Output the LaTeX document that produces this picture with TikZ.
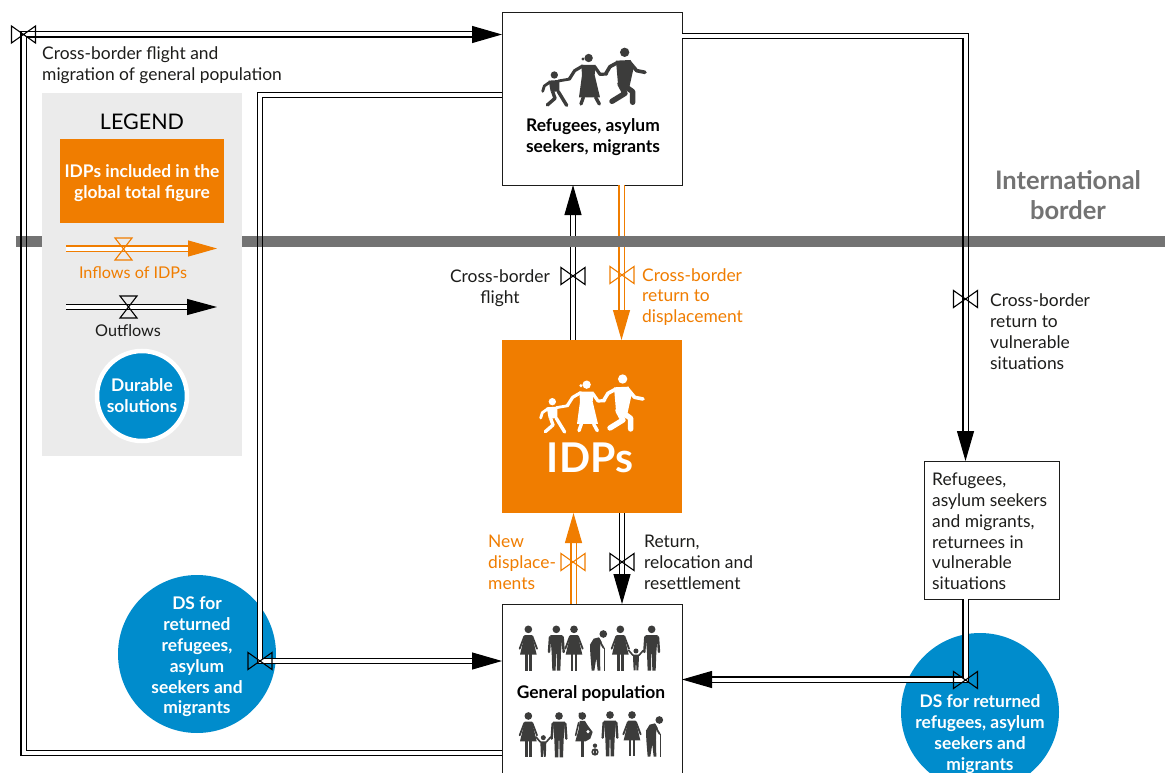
\documentclass[tikz,border=0pt]{standalone}
\usepackage{fontspec}
\setmainfont{Lato}
\usetikzlibrary{arrows.meta}
\definecolor{idporange}{HTML}{F07D00}
\definecolor{dsblue}{HTML}{008CCC}
\definecolor{bordergrey}{HTML}{737373}
\definecolor{legendgrey}{HTML}{EBEBEB}
\definecolor{icon}{HTML}{3C3C3B}
\definecolor{ink}{HTML}{1D1D1B}
\newcommand{\basefont}{\fontsize{17.4}{20.8}\selectfont}
\newcommand{\keyfont}{\fontsize{16.2}{20.8}\selectfont}
\tikzset{
  flowline/.style={double,double distance=4pt,line width=1.1pt,draw=black,line join=miter},
  oflow/.style={flowline,draw=idporange},
  tip/.style={-{Triangle[length=30pt,width=17pt]}},
  bowtie/.pic={\draw[line width=1.1pt,line join=miter] (-12,-8.5)--(12,8.5)--(12,-8.5)--(-12,8.5)--cycle;},
  hourglass/.pic={\draw[line width=1.1pt,line join=miter] (-8.5,-11)--(8.5,11)--(-8.5,11)--(8.5,-11)--cycle;},
  boxnode/.style={draw=ink,line width=0.9pt,fill=white,minimum width=180pt,inner sep=0pt,outer sep=0pt},
  lbl/.style={font=\basefont,inner sep=0pt,align=left,anchor=west,text=ink},
  olbl/.style={lbl,text=idporange},
  wtxt/.style={font=\basefont\bfseries,text=white,align=center,inner sep=0pt},
  btxt/.style={font=\basefont\bfseries,text=black,align=center,inner sep=0pt},
  dscircle/.style={circle,fill=dsblue,minimum size=158pt,inner sep=0pt,outer sep=0pt},
}
% icons, drawn in 1/3-pixel units
\newcommand{\famstroke}[2]{\draw[line width=#1pt,line cap=round,line join=round] #2;}
\newcommand{\family}[2]{%
\begin{scope}[shift={(#1)},x=0.3333pt,y=-0.3333pt,color=#2,fill=#2]
 % man
 \fill (374,127) circle (14);
 \fill (348,152)--(392,150)--(400,178)--(388,232)--(354,222)--cycle;
 \famstroke{3.6}{(352,158)--(330,170)--(318,190)}
 \famstroke{3.6}{(390,158)--(410,182)--(435,187)}
 \famstroke{5.4}{(370,225)--(398,245)--(398,277)}
 \famstroke{5.4}{(360,222)--(375,250)--(336,274)}
 % woman
 \fill (266,144) circle (12.5);
 \fill (249,147) circle (5);
 \fill (244,165)--(287,165)--(284,195)--(300,262)--(237,262)--(246,195)--cycle;
 \famstroke{3.2}{(248,168)--(224,182)--(208,207)}
 \famstroke{3.2}{(284,170)--(300,193)--(320,192)}
 \famstroke{3.4}{(250,262)--(243,282)}
 \famstroke{3.4}{(287,262)--(298,282)}
 % child
 \fill (163,195) circle (11);
 \fill (146,212)--(178,210)--(178,245)--(152,245)--cycle;
 \famstroke{2.8}{(150,216)--(133,228)--(128,244)}
 \famstroke{2.8}{(175,213)--(210,207)}
 \famstroke{3.4}{(158,245)--(165,265)--(142,285)}
 \famstroke{3.4}{(175,245)--(200,286)}
\end{scope}}
\newcommand{\pman}[2]{%
\begin{scope}[shift={(#1,#2)}]
 \fill (0,0) circle (11.5);
 \fill (-18,17)--(18,17)--(14,70)--(12,124)--(2,124)--(1,74)--(-1,74)--(-2,124)--(-12,124)--(-14,70)--cycle;
 \famstroke{2.4}{(-19,23)--(-22,68)}
 \famstroke{2.4}{(19,23)--(22,68)}
\end{scope}}
\newcommand{\pwoman}[2]{%
\begin{scope}[shift={(#1,#2)}]
 \fill (0,0) circle (11.5);
 \fill (-11,17)--(11,17)--(25,76)--(-25,76)--cycle;
 \fill (-10,74) rectangle (-2,124);
 \fill (2,74) rectangle (10,124);
 \famstroke{1.8}{(-12,21)--(-26,58)}
 \famstroke{1.8}{(12,21)--(26,58)}
\end{scope}}
\newcommand{\pchild}[2]{%
\begin{scope}[shift={(#1,#2)}]
 \fill (0,0) circle (7.5);
 \fill (-9,11)--(9,11)--(8,40)--(7,58)--(1.5,58)--(0.5,38)--(-0.5,38)--(-1.5,58)--(-7,58)--(-8,40)--cycle;
 \famstroke{1.6}{(-9,13)--(-22,-2)}
 \famstroke{1.6}{(9,13)--(22,-2)}
\end{scope}}
\newcommand{\pelder}[2]{%
\begin{scope}[shift={(#1,#2)}]
 \fill (15,0) circle (11.5);
 \fill (2,10)--(-14,14)--(-25,32)--(-24,60)--(-20,110)--(-12,110)--(-6,72)--(-2,110)--(6,110)--(5,60)--(6,30)--(10,24)--cycle;
 \famstroke{1.8}{(2,15)--(10,32)--(16,42)}
 \draw[line width=1pt] (20,42)--(20,110);
\end{scope}}
\newcommand{\ppreg}[2]{%
\begin{scope}[shift={(#1,#2)}]
 \fill (0,0) circle (11.5);
 \fill (-7,-6) circle (5);
 \fill (-8,15)--(8,15)--(16,28)--(31,48)--(24,68)--(10,76)--(-21,76)--(-11,40)--cycle;
 \fill (-5,74) rectangle (4,122);
 \fill[white] (17,47) circle (5);
 \famstroke{1.6}{(-11,20)--(-20,58)}
\end{scope}}
\newcommand{\pbaby}[2]{%
\begin{scope}[shift={(#1,#2)}]
 \fill (0,-15) circle (6.5);
 \draw[line width=1.6pt] (0,4) circle (8.5);
 \fill (-4,-5) rectangle (4,14);
\end{scope}}
\begin{document}
\begin{tikzpicture}[x=1pt,y=-1pt,font=\basefont]
\useasboundingbox (0,0) rectangle (1165,773);
\clip (0,0) rectangle (1165,773);
\fill[white] (0,0) rectangle (1165,773);

% legend panel
\node[fill=legendgrey,minimum width=200pt,minimum height=363pt,inner sep=0pt,outer sep=0pt] (legend) at (142,274.5) {};
\node[inner sep=0pt,font=\fontsize{21.5}{24}\selectfont,text=black] (legendtitle) at (142,121.5) {LEGEND};
\node[fill=idporange,minimum width=164pt,minimum height=84pt,inner sep=0pt,outer sep=0pt] (legendidp) at (142,181) {};
\node[wtxt] (legendidptxt) at (142,183) {IDPs included in the\\global total figure};
\coordinate (inflowA) at (66,248.5);
\coordinate (inflowB) at (217,248.5);
\coordinate (outflowA) at (66,307);
\coordinate (outflowB) at (217,307);
\node[olbl,anchor=center,font=\keyfont] (inflowtxt) at (133,273) {Inflows of IDPs};
\node[lbl,anchor=center,font=\keyfont] (outflowtxt) at (128,331) {Outflows};
\node[circle,fill=dsblue,draw=white,line width=4.5pt,minimum size=90pt,inner sep=0pt,wtxt] (legendds) at (142,396) {Durable\\solutions};

% boxes and circles
\node[boxnode,minimum height=173pt] (refugees) at (592,98.5) {};
\node[fill=idporange,minimum width=180pt,minimum height=173pt,inner sep=0pt,outer sep=0pt] (idps) at (592,426.5) {};
\node[boxnode,minimum height=186pt] (genpop) at (592,697) {};
\node[dscircle] (dsleft) at (197,654) {};
\node[dscircle] (dsright) at (980,712) {};
\node[draw=ink,line width=0.9pt,fill=white,minimum width=135pt,minimum height=138pt,inner sep=0pt,outer sep=0pt] (vulnbox) at (991.5,530) {};
\node[lbl,anchor=west] (vulntxt) at (932,531.5) {Refugees,\\asylum seekers\\and migrants,\\returnees in\\vulnerable\\situations};

% free-end corners
\coordinate (cornerA) at (23.5,34.5);
\coordinate (cornerB) at (260,661);

% flows
\draw[flowline,tip] ([yshift=-56pt]genpop.west) -| (cornerA) -- ([yshift=64pt]refugees.west);
\draw[flowline,tip] ([yshift=3.5pt]refugees.west) -| (cornerB) -- ([yshift=36pt]genpop.west);
\draw[flowline,tip] ([yshift=62.5pt]refugees.east) -| ([xshift=-26pt]vulnbox.north);
\draw[flowline,tip] ([xshift=-26pt]vulnbox.south) |- ([yshift=17.5pt]genpop.east);
\draw[flowline,tip] ([xshift=-19pt]idps.north) -- ([xshift=-19pt]refugees.south);
\draw[oflow,tip] ([xshift=29.5pt]refugees.south) -- ([xshift=29.5pt]idps.north);
\draw[oflow,tip] ([xshift=-18.5pt]genpop.north) -- ([xshift=-18.5pt]idps.south);
\draw[flowline,tip] ([xshift=30pt]idps.south) -- ([xshift=30pt]genpop.north);
\draw[oflow,-{Triangle[length=29pt,width=16pt]}] (inflowA) -- (inflowB);
\draw[flowline,-{Triangle[length=30pt,width=16pt]}] (outflowA) -- (outflowB);

% border bar, broken by the legend
\coordinate (barL) at (16,241);
\coordinate (barR) at (1165,241);
\draw[bordergrey,line width=11pt] (barL) -- (legend.west |- barL);
\draw[bordergrey,line width=11pt] (legend.east |- barL) -- (barR);
% long flows pass in front of the bar
\foreach \xx in {20.95,26.05,257.45,262.55,962.95,968.05}{
  \draw[line width=1.1pt,black] (\xx,235.5) -- (\xx,246.5);
}

% valves
\path (cornerA) pic {bowtie};
\path (cornerB) pic {bowtie};
\path (965.5,299) pic {bowtie};
\path (965.5,680) pic {bowtie};
\path (573,276) pic {bowtie};
\path (622,275) pic[color=idporange] {bowtie};
\path (573,562) pic[color=idporange] {bowtie};
\path (622,562) pic {bowtie};
\path (123.5,249) pic[color=idporange] {hourglass};
\path (128.5,307) pic {hourglass};

% labels
\node[lbl] (crossgen) at (42,65.5) {Cross-border flight and\\migration of general population};
\node[lbl,align=center,anchor=center] (crossflight) at (500,288) {Cross-border\\flight};
\node[olbl] (crossret) at (642,297) {Cross-border\\return to\\displacement};
\node[lbl] (crossvuln) at (990,331.5) {Cross-border\\return to\\vulnerable\\situations};
\node[lbl] (returnlbl) at (644,562.5) {Return,\\relocation and\\resettlement};
\node[olbl] (newdisp) at (488,562.5) {New\\displace-\\ments};
\node[inner sep=0pt,align=center,text=bordergrey,font=\fontsize{25.5}{30}\selectfont\bfseries] (intl) at (1068,195) {International\\border};
\node[wtxt] (dslefttxt) at (197,657) {DS for\\returned\\refugees,\\asylum\\seekers and\\migrants};
\node[wtxt] (dsrighttxt) at (980,734) {DS for returned\\refugees, asylum\\seekers and\\migrants};
\node[btxt] (reftxt) at (593,137) {Refugees, asylum\\seekers, migrants};
\node[btxt] (gentxt) at (591,693.5) {General population};
\node[inner sep=0pt,text=white,font=\fontsize{41}{43}\selectfont\bfseries] (idptxt) at (590,458) {IDPs};

% icons
\family{500,10}{icon}
\family{498,336.67}{white}
\begin{scope}[shift={(500,600)},x=0.3333pt,y=-0.3333pt,color=icon,fill=icon]
 \pwoman{85}{88}
 \pman{169}{88}
 \pwoman{222}{88}
 \pelder{295}{102}
 \pwoman{361}{88}
 \pchild{408}{153}
 \pman{455}{88}
 \pwoman{85}{348}
 \pchild{130}{413}
 \pman{177}{348}
 \ppreg{247}{348}
 \pbaby{285}{452}
 \pman{330}{345}
 \pwoman{396}{345}
 \pelder{463}{360}
\end{scope}
\end{tikzpicture}
\end{document}
